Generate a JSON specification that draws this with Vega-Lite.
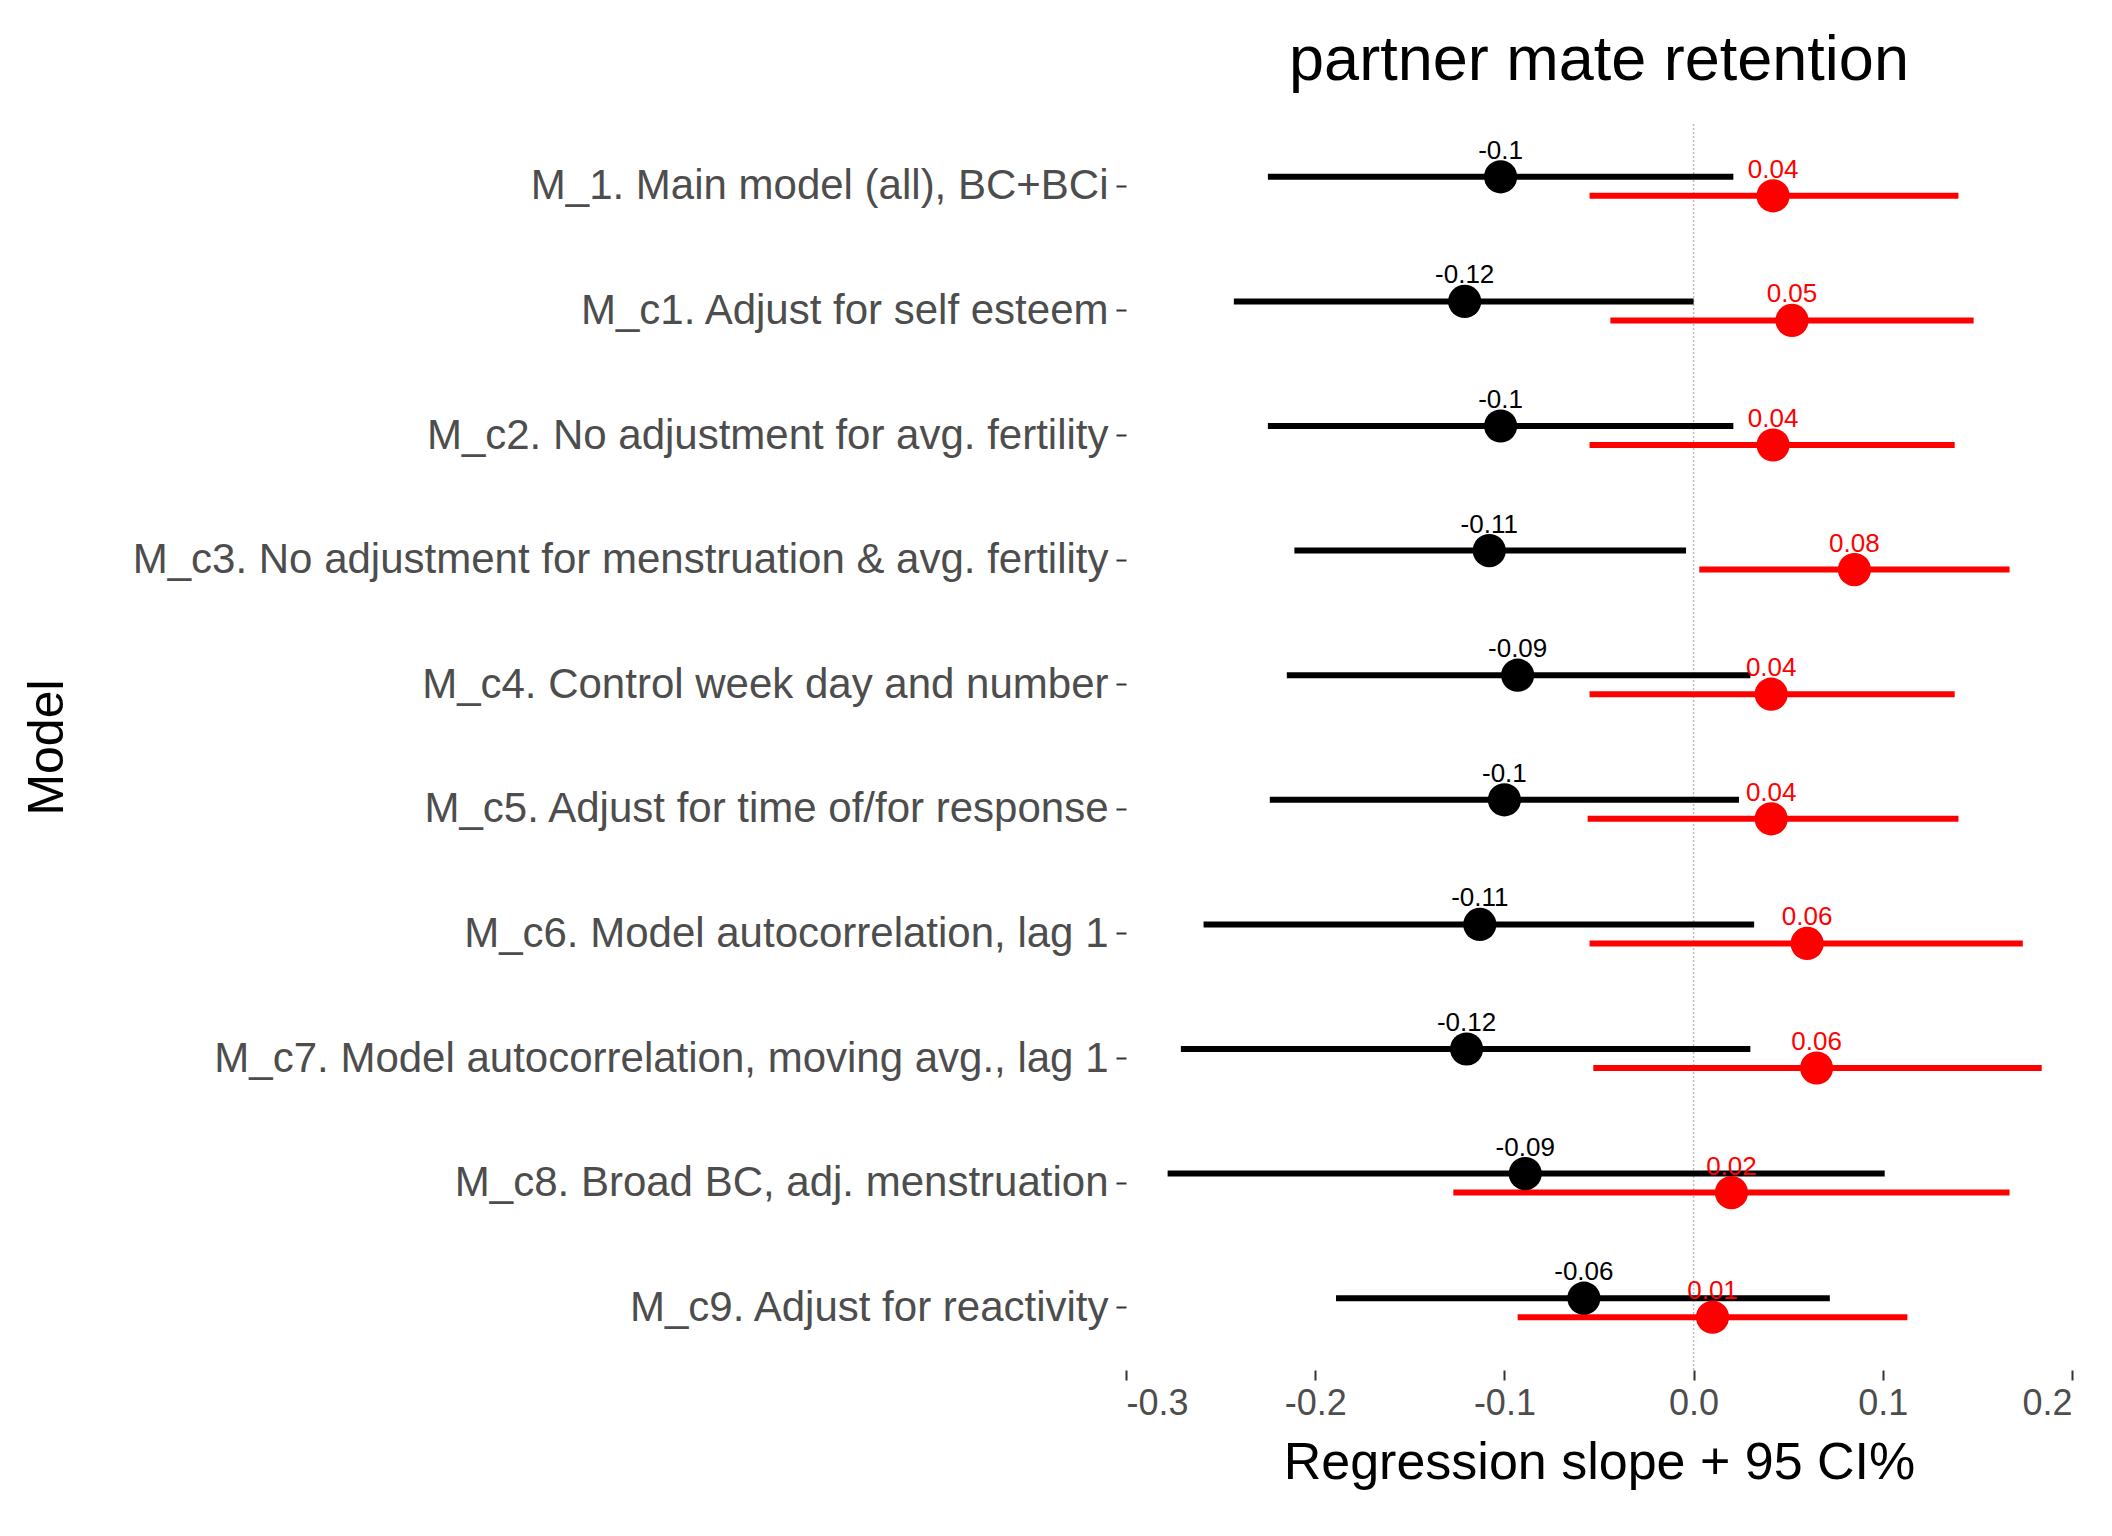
{
  "$schema": "https://vega.github.io/schema/vega-lite/v6.json",
  "width": 946,
  "height": 1246,
  "autosize": {"type": "none"},
  "background": "white",
  "padding": {"left": 1126, "top": 124, "right": 40, "bottom": 166},
  "title": {"text": "partner mate retention", "fontSize": 63, "fontWeight": "normal", "font": "Liberation Sans", "color": "black", "anchor": "middle", "offset": 30},
  "config": {"view": {"stroke": null}, "font": "Liberation Sans"},
  "data": {"values": [
    {"model": "M_1. Main model (all), BC+BCi", "s": "a", "est": -0.102, "lo": -0.225, "hi": 0.021, "lab": "-0.1"},
    {"model": "M_1. Main model (all), BC+BCi", "s": "b", "est": 0.042, "lo": -0.055, "hi": 0.14, "lab": "0.04"},
    {"model": "M_c1. Adjust for self esteem", "s": "a", "est": -0.121, "lo": -0.243, "hi": 0.0, "lab": "-0.12"},
    {"model": "M_c1. Adjust for self esteem", "s": "b", "est": 0.052, "lo": -0.044, "hi": 0.148, "lab": "0.05"},
    {"model": "M_c2. No adjustment for avg. fertility", "s": "a", "est": -0.102, "lo": -0.225, "hi": 0.021, "lab": "-0.1"},
    {"model": "M_c2. No adjustment for avg. fertility", "s": "b", "est": 0.042, "lo": -0.055, "hi": 0.138, "lab": "0.04"},
    {"model": "M_c3. No adjustment for menstruation & avg. fertility", "s": "a", "est": -0.108, "lo": -0.211, "hi": -0.004, "lab": "-0.11"},
    {"model": "M_c3. No adjustment for menstruation & avg. fertility", "s": "b", "est": 0.085, "lo": 0.003, "hi": 0.167, "lab": "0.08"},
    {"model": "M_c4. Control week day and number", "s": "a", "est": -0.093, "lo": -0.215, "hi": 0.03, "lab": "-0.09"},
    {"model": "M_c4. Control week day and number", "s": "b", "est": 0.041, "lo": -0.055, "hi": 0.138, "lab": "0.04"},
    {"model": "M_c5. Adjust for time of/for response", "s": "a", "est": -0.1, "lo": -0.224, "hi": 0.024, "lab": "-0.1"},
    {"model": "M_c5. Adjust for time of/for response", "s": "b", "est": 0.041, "lo": -0.056, "hi": 0.14, "lab": "0.04"},
    {"model": "M_c6. Model autocorrelation, lag 1", "s": "a", "est": -0.113, "lo": -0.259, "hi": 0.032, "lab": "-0.11"},
    {"model": "M_c6. Model autocorrelation, lag 1", "s": "b", "est": 0.06, "lo": -0.055, "hi": 0.174, "lab": "0.06"},
    {"model": "M_c7. Model autocorrelation, moving avg., lag 1", "s": "a", "est": -0.12, "lo": -0.271, "hi": 0.03, "lab": "-0.12"},
    {"model": "M_c7. Model autocorrelation, moving avg., lag 1", "s": "b", "est": 0.065, "lo": -0.053, "hi": 0.184, "lab": "0.06"},
    {"model": "M_c8. Broad BC, adj. menstruation", "s": "a", "est": -0.089, "lo": -0.278, "hi": 0.101, "lab": "-0.09"},
    {"model": "M_c8. Broad BC, adj. menstruation", "s": "b", "est": 0.02, "lo": -0.127, "hi": 0.167, "lab": "0.02"},
    {"model": "M_c9. Adjust for reactivity", "s": "a", "est": -0.058, "lo": -0.189, "hi": 0.072, "lab": "-0.06"},
    {"model": "M_c9. Adjust for reactivity", "s": "b", "est": 0.01, "lo": -0.093, "hi": 0.113, "lab": "0.01"}
  ]},
  "encoding": {
    "y": {"field": "model", "type": "nominal", "sort": null, "title": "Model",
      "scale": {"paddingInner": 1, "paddingOuter": 0.5},
      "axis": {"domain": false, "grid": false, "labelFontSize": 42, "labelColor": "#4d4d4d", "labelLimit": 1200, "tickSize": 10, "tickWidth": 2, "tickColor": "#333", "labelPadding": 8, "titleFontSize": 50, "titleFontWeight": "normal", "titleColor": "black", "titleX": -1079, "titleY": 623, "titleBaseline": "middle", "titleAnchor": "middle"}},
    "yOffset": {"field": "s", "type": "nominal", "scale": {"domain": ["a", "b"], "range": [-19, 19]}},
    "color": {"field": "s", "type": "nominal", "legend": null, "scale": {"domain": ["a", "b"], "range": ["black", "#ff0000"]}}
  },
  "layer": [
    {"mark": {"type": "rule", "strokeDash": [2, 2], "color": "#bbbbbb", "strokeWidth": 1.5}, "data": {"values": [{"z": 0}]},
      "encoding": {"x": {"field": "z", "type": "quantitative"}, "y": null, "yOffset": null, "color": null}},
    {"mark": {"type": "rule", "strokeWidth": 6},
      "encoding": {
        "x": {"field": "lo", "type": "quantitative", "title": "Regression slope + 95 CI%",
          "scale": {"domain": [-0.3, 0.2], "nice": false, "zero": false},
          "axis": {"values": [-0.3, -0.2, -0.1, 0, 0.1, 0.2], "labelExpr": "replace(format(datum.value, '.1f'), '\u2212', '-')", "domain": false, "grid": false, "labelFontSize": 36, "labelColor": "#4d4d4d", "tickSize": 10, "tickWidth": 2, "tickColor": "#333", "labelPadding": 6, "titleFontSize": 52, "titleFontWeight": "normal", "titleColor": "black", "titlePadding": 16}},
        "x2": {"field": "hi"}}},
    {"mark": {"type": "circle", "size": 1100, "opacity": 1}, "encoding": {"x": {"field": "est", "type": "quantitative"}}},
    {"mark": {"type": "text", "fontSize": 26, "dy": -26}, "encoding": {"x": {"field": "est", "type": "quantitative"}, "text": {"field": "lab"}}}
  ]
}
